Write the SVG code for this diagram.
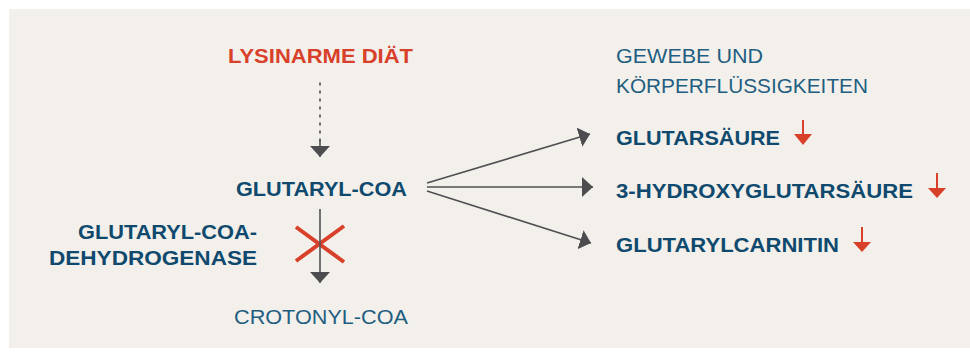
<svg xmlns="http://www.w3.org/2000/svg" width="970" height="356" viewBox="0 0 970 356">
<style>
.b{font-family:"Liberation Sans",Arial,sans-serif;font-weight:bold;font-size:21px;fill:#0f4a6e}
.r{font-family:"Liberation Sans",Arial,sans-serif;font-size:21px;fill:#1f5e80}
.red{fill:#d8402a}
.ln{stroke:#505053;stroke-width:1.6;fill:none}
.dn{stroke:#d8402a;stroke-width:2;fill:none}
</style>
<defs>
<marker id="ah" markerUnits="userSpaceOnUse" markerWidth="12" markerHeight="20" refX="11" refY="10" orient="auto" viewBox="0 0 12 20">
<path d="M0,0 L11,10 L0,20 Z" fill="#4d4d50"/>
</marker>
</defs>
<rect width="970" height="356" fill="#ffffff"/>
<rect x="9" y="9" width="961" height="339" fill="#f3f0ec"/>

<g id="diet">
<text class="b red" x="228" y="63" textLength="185" lengthAdjust="spacingAndGlyphs" style="fill:#d8402a">LYSINARME DIÄT</text>
</g>
<g id="glutarylcoa">
<text class="b" x="236" y="196" textLength="171" lengthAdjust="spacingAndGlyphs">GLUTARYL-COA</text>
</g>
<g id="enzyme">
<text class="b" x="78" y="239" textLength="179" lengthAdjust="spacingAndGlyphs">GLUTARYL-COA-</text>
<text class="b" x="49" y="265" textLength="208" lengthAdjust="spacingAndGlyphs">DEHYDROGENASE</text>
<path d="M296,227 L344,262 M296,261 L344,226" stroke="#d8402a" stroke-width="4"/>
</g>
<g id="crotonyl">
<text class="r" x="234" y="324" textLength="174" lengthAdjust="spacingAndGlyphs">CROTONYL-COA</text>
</g>
<g id="tissue">
<text class="r" x="616" y="63" textLength="147" lengthAdjust="spacingAndGlyphs">GEWEBE UND</text>
<text class="r" x="616" y="93" textLength="252" lengthAdjust="spacingAndGlyphs">KÖRPERFLÜSSIGKEITEN</text>
</g>
<g id="glutarsaeure">
<text class="b" x="616" y="145" textLength="164" lengthAdjust="spacingAndGlyphs">GLUTARSÄURE</text>
<path class="dn" d="M803,120 V137"/>
<polygon class="red" points="794,134 812,134 803,145"/>
</g>
<g id="hydroxy">
<text class="b" x="616" y="198" textLength="297" lengthAdjust="spacingAndGlyphs">3-HYDROXYGLUTARSÄURE</text>
<path class="dn" d="M937,173 V190"/>
<polygon class="red" points="928,188 946,188 937,198"/>
</g>
<g id="carnitin">
<text class="b" x="616" y="252" textLength="223" lengthAdjust="spacingAndGlyphs">GLUTARYLCARNITIN</text>
<path class="dn" d="M862,227 V244"/>
<polygon class="red" points="853,242 871,242 862,252"/>
</g>

<g id="connectors">
<path class="ln" d="M320,83 V146" stroke-dasharray="2 6" stroke-width="2.4" stroke-linecap="round"/>
<path class="ln" d="M320,140 V157" stroke="none" marker-end="url(#ah)"/>
<path class="ln" d="M320,209 V283" marker-end="url(#ah)"/>
<path class="ln" d="M427,183 L590,134" marker-end="url(#ah)"/>
<path class="ln" d="M427,187 L593,187" marker-end="url(#ah)"/>
<path class="ln" d="M427,191 L591,243" marker-end="url(#ah)"/>
</g>
</svg>
